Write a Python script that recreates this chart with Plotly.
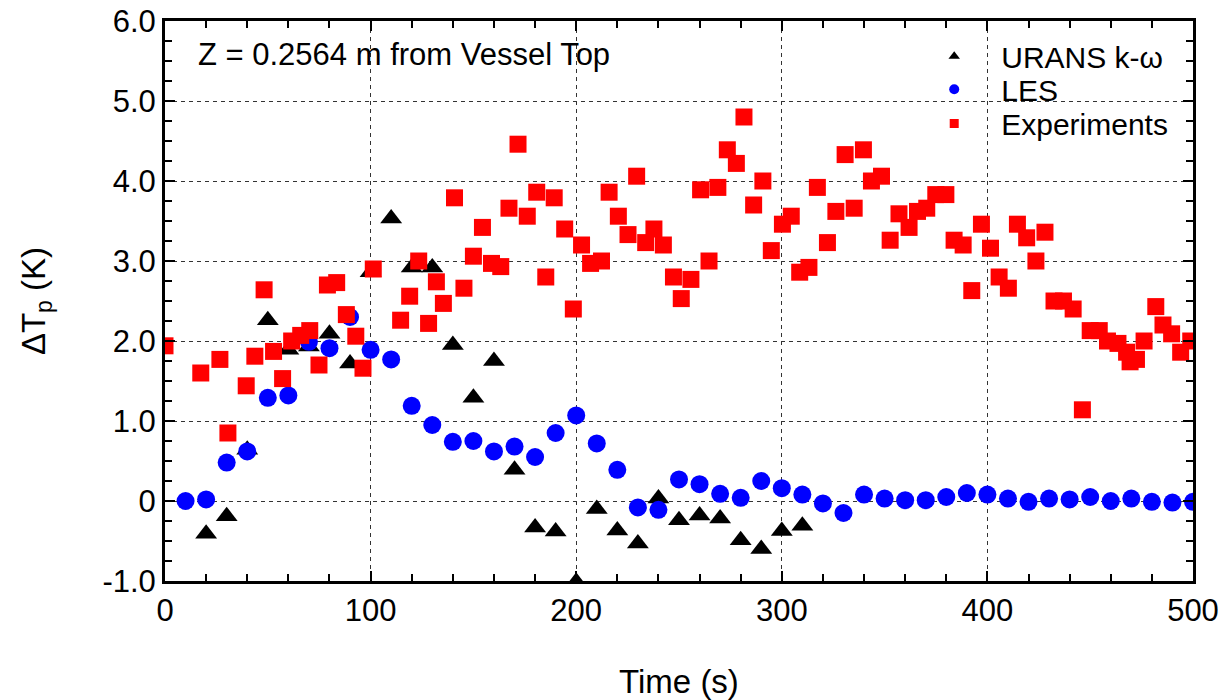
import plotly.graph_objects as go

# ---------------- data ----------------
urans_t = [20, 30, 40, 50, 60, 70, 80, 90, 100, 110, 120, 130, 140, 150, 160,
           170, 180, 190, 200, 210, 220, 230, 240, 250, 260, 270, 280, 290, 300, 310]
urans_dT = [-0.41, -0.19, 0.64, 2.26, 1.89, 1.93, 2.09, 1.72, 2.86, 3.53, 2.92, 2.92, 1.95, 1.29, 1.75,
            0.39, -0.33, -0.38, -1.01, -0.10, -0.37, -0.53, 0.03, -0.24, -0.18, -0.22, -0.49, -0.60, -0.375, -0.31]

les_t = [10, 20, 30, 40, 50, 60, 70, 80, 90, 100, 110, 120, 130, 140, 150, 160, 170, 180, 190, 200,
         210, 220, 230, 240, 250, 260, 270, 280, 290, 300, 310, 320, 330, 340, 350, 360, 370, 380,
         390, 400, 410, 420, 430, 440, 450, 460, 470, 480, 490, 500]
les_dT = [0.00, 0.02, 0.48, 0.62, 1.29, 1.32, 1.99, 1.91, 2.30, 1.89, 1.77, 1.19, 0.95, 0.74, 0.75,
          0.62, 0.68, 0.55, 0.85, 1.07, 0.72, 0.39, -0.08, -0.11, 0.27, 0.21, 0.09, 0.04, 0.25, 0.16,
          0.08, -0.03, -0.15, 0.08, 0.03, 0.01, 0.01, 0.05, 0.10, 0.08, 0.03, -0.01, 0.03, 0.02,
          0.05, 0.00, 0.03, -0.01, -0.02, -0.01]

exp_t = [0, 17.4, 26.7, 30.6, 39.5, 43.7, 48.2, 52.8, 57.2, 61.6, 66, 70.4, 74.9, 79, 83.5, 88.2,
         92.8, 96.3, 101.3, 114.6, 119, 123.4, 128.2, 132, 135.4, 140.8, 145.4, 150, 154.4, 158.8,
         163.3, 167.3, 171.7, 176.2, 180.8, 185.2, 189.3, 194.4, 198.6, 202.6, 207, 212.3, 216,
         220.5, 225.2, 229.4, 233.8, 237.8, 242.4, 247.3, 251.1, 255.8, 260.5, 264.6, 268.9, 273.5,
         277.9, 281.6, 286.3, 290.8, 294.9, 300.3, 304.6, 308.7, 313.2, 317.3, 322.2, 326.3, 330.8,
         335.2, 339.7, 343.6, 348.5, 352.7, 357, 361.9, 366, 370.5, 374.9, 379.8, 383.8, 388.2,
         392.4, 397.1, 401.5, 405.7, 410.2, 414.6, 419.1, 423.6, 428, 432.4, 437, 441.7, 446.2,
         450, 454.4, 458.4, 463.5, 467.7, 469.4, 472.5, 476.2, 481.9, 485.4, 489.6, 494, 498.9]
exp_dT = [1.94, 1.60, 1.77, 0.85, 1.44, 1.81, 2.64, 1.87, 1.53, 2.00, 2.07, 2.13, 1.70, 2.70, 2.73, 2.33,
          2.06, 1.66, 2.90, 2.26, 2.56, 3.00, 2.22, 2.74, 2.47, 3.79, 2.66, 3.06, 3.42, 2.97,
          2.93, 3.66, 4.46, 3.56, 3.86, 2.80, 3.79, 3.40, 2.40, 3.20, 2.97, 3.00, 3.86,
          3.56, 3.33, 4.06, 3.23, 3.40, 3.20, 2.80, 2.53, 2.77, 3.89, 3.00, 3.92, 4.39,
          4.22, 4.80, 3.70, 4.00, 3.13, 3.46, 3.56, 2.86, 2.92, 3.92, 3.23, 3.62, 4.33,
          3.66, 4.39, 4.00, 4.06, 3.26, 3.59, 3.42, 3.62, 3.66, 3.83, 3.83, 3.26, 3.20,
          2.63, 3.46, 3.16, 2.80, 2.66, 3.46, 3.29, 3.00, 3.36, 2.50, 2.50, 2.40, 1.14,
          2.13, 2.13, 2.00, 1.97, 1.86, 1.74, 1.77, 2.00, 2.43, 2.20, 2.09, 1.86, 2.00]

x_ticks = [0, 100, 200, 300, 400, 500]
y_ticks = [-1, 0, 1, 2, 3, 4, 5, 6]
y_ticklabels = ["-1.0", "0", "1.0", "2.0", "3.0", "4.0", "5.0", "6.0"]

FONT = "Arial, 'Liberation Sans', sans-serif"

fig = go.Figure()

# data traces (drawing order: URANS, LES, Experiments on top)
fig.add_trace(go.Scatter(x=urans_t, y=urans_dT, mode="markers", showlegend=False,
                         marker=dict(symbol="triangle-up", size=19, color="black")))
fig.add_trace(go.Scatter(x=les_t, y=les_dT, mode="markers", showlegend=False,
                         marker=dict(symbol="circle", size=18, color="#0000ff")))
fig.add_trace(go.Scatter(x=exp_t, y=exp_dT, mode="markers", showlegend=False,
                         marker=dict(symbol="square", size=17, color="#ff0000")))

# legend entries with small symbols, one legend each for exact spacing
fig.add_trace(go.Scatter(x=[None], y=[None], mode="markers", name="URANS k-ω", legend="legend",
                         marker=dict(symbol="triangle-up", size=10, color="black")))
fig.add_trace(go.Scatter(x=[None], y=[None], mode="markers", name="LES", legend="legend2",
                         marker=dict(symbol="circle", size=10, color="#0000ff")))
fig.add_trace(go.Scatter(x=[None], y=[None], mode="markers", name="Experiments", legend="legend3",
                         marker=dict(symbol="square", size=9, color="#ff0000")))

axis_common = dict(
    showline=True, linewidth=3, linecolor="black", mirror="allticks",
    ticks="inside", ticklen=10, tickwidth=2, tickcolor="black",
    showgrid=True, gridcolor="#333333", gridwidth=1, griddash="4px,4px",
    zeroline=False, ticklabeloverflow="allow",
    tickfont=dict(family=FONT, size=31, color="black"),
)

fig.update_xaxes(
    range=[0, 500], tickvals=x_ticks, automargin=False,
    title=dict(text="Time (s)", font=dict(family=FONT, size=33, color="black"), standoff=45),
    minor=dict(dtick=20, tick0=0, ticks="inside", ticklen=7, tickwidth=2, tickcolor="black", showgrid=False),
    **axis_common,
)
fig.update_yaxes(
    range=[-1, 6], tickvals=y_ticks, ticktext=y_ticklabels, automargin="left",
    title=dict(text="ΔT<sub>p</sub> (K)", font=dict(family=FONT, size=33, color="black"), standoff=47),
    minor=dict(dtick=0.25, tick0=0, ticks="inside", ticklen=7, tickwidth=2, tickcolor="black", showgrid=False),
    **axis_common,
)

fig.add_annotation(
    text="Z = 0.2564 m from Vessel Top", xref="paper", yref="paper",
    x=0.03, y=0.94, xanchor="left", yanchor="middle", showarrow=False,
    font=dict(family=FONT, size=31, color="black"),
)

leg_common = dict(xanchor="left", yanchor="middle", x=0.722,
                  font=dict(family=FONT, size=30, color="black"),
                  bgcolor="rgba(255,255,255,0)", itemwidth=84)

fig.update_layout(
    width=1223, height=692,
    margin=dict(l=157, r=38, t=13, b=119),
    plot_bgcolor="white", paper_bgcolor="white",
    legend=dict(y=0.937, **leg_common),
    legend2=dict(y=0.878, **leg_common),
    legend3=dict(y=0.817, **leg_common),
)

fig.write_html("out.html")
